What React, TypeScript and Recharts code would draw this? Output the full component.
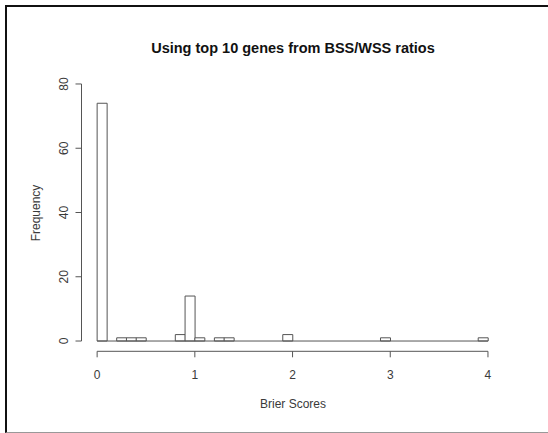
import React from 'react';
import { ComposedChart, Bar, XAxis, YAxis, ReferenceLine, Label } from 'recharts';

const binMids = [
  0.05, 0.15, 0.25, 0.35, 0.45, 0.55, 0.65, 0.75, 0.85, 0.95,
  1.05, 1.15, 1.25, 1.35, 1.45, 1.55, 1.65, 1.75, 1.85, 1.95,
  2.05, 2.15, 2.25, 2.35, 2.45, 2.55, 2.65, 2.75, 2.85, 2.95,
  3.05, 3.15, 3.25, 3.35, 3.45, 3.55, 3.65, 3.75, 3.85, 3.95,
];
const counts = [
  74, 0, 1, 1, 1, 0, 0, 0, 2, 14,
  1, 0, 1, 1, 0, 0, 0, 0, 0, 2,
  0, 0, 0, 0, 0, 0, 0, 0, 0, 1,
  0, 0, 0, 0, 0, 0, 0, 0, 0, 1,
];
const xTicks = [0, 1, 2, 3, 4];
const yTicks = [0, 20, 40, 60, 80];
const title = 'Using top 10 genes from BSS/WSS ratios';
const xLabel = 'Brier Scores';
const yLabel = 'Frequency';

const data = binMids.map((m, i) => ({ mid: m, count: counts[i] }));

const FONT = '"Liberation Sans", Arial, Helvetica, sans-serif';
const INK = '#3a3a3a';

const XTick = (props: any) => {
  const { x, payload } = props;
  return (
    <text x={x} y={375} textAnchor="middle" dominantBaseline="central" fontSize={12} fill={INK} fontFamily={FONT}>
      {payload.value}
    </text>
  );
};

const YTick = (props: any) => {
  const { y, payload } = props;
  return (
    <text x={64} y={y} textAnchor="middle" dominantBaseline="central" fontSize={12} fill={INK} fontFamily={FONT}
      transform={`rotate(-90, 64, ${y})`}>
      {payload.value}
    </text>
  );
};

export default function App() {
  return (
    <div style={{ position: 'absolute', left: 0, top: 0, width: 548, height: 433, background: '#fff' }}>
      <div style={{ position: 'absolute', left: 5, top: 5, width: 541, height: 425, borderLeft: '2px solid #111', borderTop: '2px solid #111', borderBottom: '1px solid #999' }} />
      <div style={{ position: 'absolute', left: 0, top: 0 }}>
        <ComposedChart width={548} height={433} data={data}
          margin={{ top: 73.7, right: 44.4, bottom: 51.7, left: 0 }}
          barCategoryGap={0} barGap={0}>
          <text x={293} y={48} textAnchor="middle" dominantBaseline="central" fontSize={14.5} fontWeight="bold" fill="#111" fontFamily={FONT}>
            {title}
          </text>
          <XAxis dataKey="mid" type="number" domain={[-0.16, 4.16]} allowDataOverflow ticks={xTicks}
            axisLine={false} tickLine={{ stroke: '#555' }} tickSize={6} tick={XTick} height={30} interval={0}>
            <Label content={() => (
              <text x={293} y={404} textAnchor="middle" dominantBaseline="central" fontSize={12} fill={INK} fontFamily={FONT}>{xLabel}</text>
            )} />
          </XAxis>
          <YAxis type="number" domain={[-3.2, 83.2]} allowDataOverflow ticks={yTicks} width={81.5}
            axisLine={false} tickLine={{ stroke: '#555' }} tickSize={6} tick={YTick} interval={0}>
            <Label content={() => (
              <text x={36} y={213} textAnchor="middle" dominantBaseline="central" fontSize={12} fill={INK} fontFamily={FONT}
                transform="rotate(-90, 36, 213)">{yLabel}</text>
            )} />
          </YAxis>
          <ReferenceLine segment={[{ x: 0, y: -3.2 }, { x: 4, y: -3.2 }]} stroke="#555" strokeWidth={1} ifOverflow="visible" />
          <ReferenceLine segment={[{ x: -0.16, y: 0 }, { x: -0.16, y: 80 }]} stroke="#555" strokeWidth={1} ifOverflow="visible" />
          <ReferenceLine segment={[{ x: 0, y: 0 }, { x: 4, y: 0 }]} stroke="#555" strokeWidth={1} ifOverflow="visible" />
          <Bar dataKey="count" fill="#fff" stroke="#555" strokeWidth={1} isAnimationActive={false} />
        </ComposedChart>
      </div>
    </div>
  );
}
